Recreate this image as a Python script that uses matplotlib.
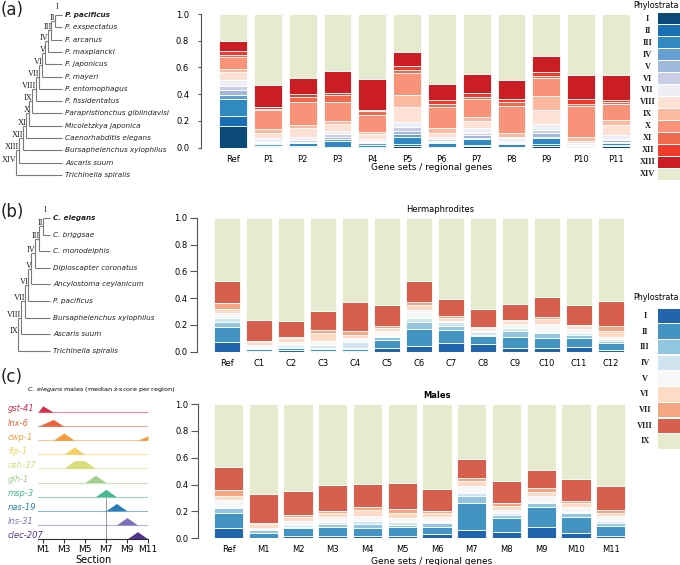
import numpy as np
import matplotlib
matplotlib.use("Agg")
import matplotlib.pyplot as plt
from matplotlib.patches import Rectangle

W, H = 680, 565

# ---------------- data ----------------
strata_a = ["I", "II", "III", "IV", "V", "VI", "VII", "VIII", "IX", "X",
            "XI", "XII", "XIII", "XIV"]
strata_bc = strata_a[:9]

colors_a = ["#0b4a78", "#1a6fb4", "#3189c2", "#64a0d2", "#a0b8dc", "#cacde6",
            "#eeeef6", "#fde1d5", "#fbb99f", "#f8937a", "#ee6a4e", "#ef3b2c",
            "#cb1e24", "#e6ebcf"]
colors_bc = ["#2166ac", "#4393c3", "#92c5de", "#d1e5f0", "#f7f7f7",
             "#fddbc7", "#f4a582", "#d6604d", "#e6ebcf"]

taxa_a = ["P. pacificus", "P. exspectatus", "P. arcanus", "P. maxplancki",
          "P. japonicus", "P. mayeri", "P. entomophagus", "P. fissidentatus",
          "Parapristionchus giblindavisi", "Micoletzkya japonica",
          "Caenorhabditis elegans", "Bursaphelenchus xylophilus",
          "Ascaris suum", "Trichinella spiralis"]
taxa_b = ["C. elegans", "C. briggsae", "C. monodelphis", "Diploscapter coronatus",
          "Ancylostoma ceylanicum", "P. pacificus", "Bursaphelenchus xylophilus",
          "Ascaris suum", "Trichinella spiralis"]
# x of the internal nodes II, III, ... of each cladogram
nodes_a = [55, 51, 48, 45, 42, 39, 36, 32, 29, 26, 23, 19, 16]
nodes_b = [43, 39, 35, 31, 28, 25, 21, 18]

labels_a = ["Ref"] + ["P%d" % i for i in range(1, 12)]
labels_b = ["Ref"] + ["C%d" % i for i in range(1, 13)]
labels_c = ["Ref"] + ["M%d" % i for i in range(1, 12)]

# proportion of genes per phylostratum (I ... XIV), one row per gene set
props_a = [
    [0.162, 0.077, 0.122, 0.032, 0.042, 0.025, 0.045, 0.062, 0.025, 0.087, 0.017, 0.025, 0.077, 0.202],
    [0.003, 0.004, 0.008, 0.012, 0.008, 0.009, 0.025, 0.042, 0.030, 0.140, 0.012, 0.008, 0.167, 0.532],
    [0.007, 0.008, 0.017, 0.005, 0.008, 0.012, 0.025, 0.062, 0.025, 0.176, 0.037, 0.020, 0.117, 0.481],
    [0.004, 0.004, 0.045, 0.012, 0.018, 0.020, 0.025, 0.050, 0.025, 0.142, 0.050, 0.017, 0.162, 0.426],
    [0.003, 0.005, 0.015, 0.012, 0.005, 0.007, 0.017, 0.040, 0.017, 0.120, 0.032, 0.012, 0.229, 0.486],
    [0.015, 0.012, 0.055, 0.020, 0.025, 0.025, 0.042, 0.112, 0.087, 0.163, 0.025, 0.030, 0.107, 0.282],
    [0.004, 0.004, 0.030, 0.008, 0.007, 0.010, 0.020, 0.030, 0.032, 0.162, 0.020, 0.030, 0.120, 0.523],
    [0.010, 0.010, 0.042, 0.008, 0.025, 0.012, 0.037, 0.057, 0.025, 0.135, 0.020, 0.030, 0.140, 0.449],
    [0.003, 0.004, 0.020, 0.005, 0.005, 0.007, 0.025, 0.010, 0.030, 0.200, 0.030, 0.025, 0.140, 0.496],
    [0.015, 0.012, 0.042, 0.012, 0.030, 0.020, 0.045, 0.105, 0.105, 0.132, 0.017, 0.032, 0.117, 0.316],
    [0.003, 0.002, 0.007, 0.005, 0.002, 0.002, 0.012, 0.017, 0.032, 0.230, 0.012, 0.037, 0.180, 0.459],
    [0.012, 0.008, 0.012, 0.012, 0.012, 0.012, 0.025, 0.075, 0.037, 0.125, 0.012, 0.017, 0.182, 0.459],
]
props_b = [
    [0.070, 0.117, 0.037, 0.030, 0.032, 0.032, 0.042, 0.167, 0.473],
    [0.005, 0.017, 0.005, 0.005, 0.015, 0.022, 0.012, 0.157, 0.762],
    [0.012, 0.017, 0.008, 0.012, 0.020, 0.030, 0.012, 0.117, 0.772],
    [0.005, 0.017, 0.005, 0.025, 0.025, 0.062, 0.025, 0.137, 0.699],
    [0.004, 0.015, 0.005, 0.050, 0.030, 0.020, 0.030, 0.219, 0.627],
    [0.025, 0.062, 0.025, 0.005, 0.037, 0.020, 0.017, 0.157, 0.652],
    [0.042, 0.127, 0.055, 0.030, 0.057, 0.037, 0.020, 0.159, 0.473],
    [0.062, 0.100, 0.032, 0.030, 0.005, 0.020, 0.020, 0.122, 0.609],
    [0.055, 0.065, 0.005, 0.025, 0.012, 0.012, 0.012, 0.132, 0.682],
    [0.025, 0.087, 0.042, 0.020, 0.030, 0.025, 0.008, 0.117, 0.646],
    [0.025, 0.075, 0.037, 0.012, 0.055, 0.040, 0.017, 0.144, 0.595],
    [0.037, 0.067, 0.020, 0.012, 0.037, 0.017, 0.012, 0.144, 0.654],
    [0.012, 0.050, 0.020, 0.010, 0.020, 0.042, 0.037, 0.189, 0.620],
]
props_c = [
    [0.074, 0.117, 0.032, 0.007, 0.055, 0.030, 0.045, 0.169, 0.471],
    [0.005, 0.037, 0.020, 0.005, 0.012, 0.025, 0.012, 0.216, 0.668],
    [0.017, 0.057, 0.012, 0.012, 0.032, 0.030, 0.012, 0.179, 0.649],
    [0.017, 0.065, 0.025, 0.017, 0.032, 0.030, 0.020, 0.191, 0.603],
    [0.017, 0.057, 0.032, 0.022, 0.037, 0.045, 0.025, 0.166, 0.599],
    [0.017, 0.070, 0.012, 0.025, 0.030, 0.032, 0.032, 0.191, 0.591],
    [0.032, 0.055, 0.030, 0.005, 0.040, 0.025, 0.017, 0.163, 0.633],
    [0.062, 0.199, 0.055, 0.020, 0.057, 0.030, 0.025, 0.144, 0.408],
    [0.050, 0.099, 0.025, 0.012, 0.025, 0.030, 0.020, 0.166, 0.573],
    [0.082, 0.154, 0.030, 0.008, 0.042, 0.027, 0.030, 0.132, 0.495],
    [0.042, 0.114, 0.030, 0.012, 0.037, 0.025, 0.017, 0.164, 0.559],
    [0.020, 0.072, 0.020, 0.020, 0.035, 0.025, 0.020, 0.174, 0.614],
]

# ridgeline: median z-score per region (sections M1..M11)
sections = ["M%d" % i for i in range(1, 12)]
genes = ["gst-41", "lnx-6", "cwp-1", "flp-1", "ceh-37", "glh-1", "msp-3",
         "nas-19", "lns-31", "clec-207"]
gene_colors = ["#d7304d", "#f0603a", "#f59d3d", "#f6cf62", "#d6dd78",
               "#9fd08a", "#45b98c", "#2a7db8", "#7d70bb", "#553190"]
ridge_vals = [
    [0.85, 0, 0, 0, 0, 0, 0, 0, 0, 0, 0],
    [0.26, 0.92, 0, 0, 0, 0, 0, 0, 0, 0, 0],
    [0, 0, 1.0, 0, 0, 0, 0, 0, 0, 0, 0.6],
    [0, 0, 0, 1.0, 0, 0, 0, 0, 0, 0, 0],
    [0, 0, 0, 1.05, 1.05, 0, 0, 0, 0, 0, 0],
    [0, 0, 0, 0, 0, 1.0, 0, 0, 0, 0, 0],
    [0, 0, 0, 0, 0, 0, 1.0, 0, 0, 0, 0],
    [0, 0, 0, 0, 0, 0, 0, 1.0, 0, 0, 0],
    [0, 0, 0, 0, 0, 0, 0, 0, 1.0, 0, 0],
    [0, 0, 0, 0, 0, 0, 0, 0, 0, 1.0, 0],
]

SERIF = "Liberation Serif"

fig = plt.figure(figsize=(W / 100, H / 100), dpi=100)


def px_axes(left, top, right, bottom):
    return fig.add_axes([left / W, 1 - bottom / H, (right - left) / W, (bottom - top) / H])


# overlay in pixel coordinates for the cladograms and panel letters
ax0 = px_axes(0, 0, W, H)
ax0.set_xlim(0, W)
ax0.set_ylim(H, 0)
ax0.axis("off")


def draw_tree(ax, taxa, node_x, top_y, step, tip_x, fs):
    ys = top_y + step * np.arange(len(taxa))
    kw = dict(color="#7a7a7a", lw=0.8, solid_capstyle="butt")
    lab = dict(family=SERIF, fontsize=6, color="#222")
    ax.text(tip_x - 5, ys[0] - 4, strata_a[0], ha="center", va="bottom", **lab)
    clade_y = ys[0]
    ax.plot([node_x[0], tip_x], [ys[0], ys[0]], **kw)
    for k in range(1, len(taxa)):
        nx = node_x[k - 1]
        if k > 1:
            ax.plot([nx, node_x[k - 2]], [clade_y, clade_y], **kw)
        ax.plot([nx, tip_x], [ys[k], ys[k]], **kw)
        ax.plot([nx, nx], [clade_y, ys[k]], **kw)
        new_y = (clade_y + ys[k]) / 2
        ax.text(nx + 0.5, new_y - 3, strata_a[k], ha="right", va="center", **lab)
        clade_y = new_y
    for i, name in enumerate(taxa):
        ax.text(tip_x + 3, ys[i], name, ha="left", va="center", style="italic",
                fontsize=fs, weight="bold" if i == 0 else "normal", color="#222")


draw_tree(ax0, taxa_a, nodes_a, 15, 12.3, 62, 5.2)
draw_tree(ax0, taxa_b, nodes_b, 218, 16.6, 50, 5.2)

for letter, y in [("(a)", 10), ("(b)", 212), ("(c)", 377)]:
    ax0.text(1, y, letter, fontsize=12, ha="left", va="center", color="#222")


def stacked(ax, labels, rows, colors, width, xlim, ticklen, tickpad):
    vals = np.array(rows).T
    x = np.arange(len(labels))
    bottom = np.zeros(len(labels))
    for v, c in zip(vals, colors):
        ax.bar(x, v, width, bottom=bottom, color=c, edgecolor="white", linewidth=0.6)
        bottom += v
    ax.set_xlim(*xlim)
    ax.set_ylim(0, 1)
    for s in ["top", "right", "bottom"]:
        ax.spines[s].set_visible(False)
    ax.spines["left"].set_color("#555")
    ax.spines["left"].set_linewidth(0.8)
    ax.set_yticks(np.arange(0, 1.01, 0.2))
    ax.set_yticklabels(["%.1f" % t for t in np.arange(0, 1.01, 0.2)])
    ax.tick_params(axis="y", labelsize=6, length=ticklen, pad=tickpad, color="#555")
    ax.set_xticks(x)
    ax.set_xticklabels(labels)
    ax.tick_params(axis="x", labelsize=6, length=0, pad=5)


ax_a = px_axes(201, 14, 631.5, 147.7)
stacked(ax_a, labels_a, props_a, colors_a, 0.8, (-0.92, 11.45), 2.5, 6)
ax_b = px_axes(197, 217.7, 627, 351.7)
stacked(ax_b, labels_b, props_b, colors_bc, 0.81, (-0.94, 12.5), 5, 2)
ax_c = px_axes(198, 404, 628.2, 538.3)
stacked(ax_c, labels_c, props_c, colors_bc, 0.84, (-0.88, 11.5), 5, 2)

fig.text(432 / W, 1 - 168 / H, "Gene sets / regional genes", fontsize=6.5,
         ha="center", va="center")
fig.text(432 / W, 1 - 561 / H, "Gene sets / regional genes", fontsize=6.5,
         ha="center", va="center")
fig.text(440 / W, 1 - 210 / H, "Hermaphrodites", fontsize=6, ha="center", va="center")
fig.text(437 / W, 1 - 395 / H, "Males", fontsize=6, ha="center", va="center",
         weight="bold")


def legend_box(left, top, bottom, names, colors, lab_x, title_y):
    ax = px_axes(left, top, left + 26, bottom)
    n = len(names)
    ax.set_xlim(0, 1)
    ax.set_ylim(n, 0)
    ax.axis("off")
    for i, (nm, c) in enumerate(zip(names, colors)):
        ax.add_patch(Rectangle((0, i + 0.04), 1, 0.92, color=c, lw=0))
        ax.text(lab_x, i + 0.5, nm, ha="center", va="center", family=SERIF,
                fontsize=6, weight="bold", color="#222", clip_on=False)
    fig.text(679 / W, 1 - title_y / H, "Phylostrata", fontsize=5.8,
             ha="right", va="center")


legend_box(658, 12.7, 180.2, strata_a, colors_a, -0.4, 5)
legend_box(658, 308, 449.3, strata_bc, colors_bc, -0.5, 298)

# ridgeline plot
ax_r = px_axes(38, 402.2, 148, 540.4)
x0 = 0.55
xs = np.concatenate([[x0], np.arange(1, len(sections) + 1)])
scale = 0.52
n = len(genes)
for i, (g, c, v) in enumerate(zip(genes, gene_colors, ridge_vals)):
    base = n - 1 - i
    ys = base + scale * np.concatenate([[0], v])
    ax_r.plot([x0, len(sections)], [base, base], color=c, lw=0.8, alpha=0.55, zorder=1)
    ax_r.fill_between(xs, base, ys, color=c, lw=0, zorder=2)
    ax_r.text(x0 - 2.85, base + 0.22, g, color=c, style="italic", fontsize=6,
              ha="left", va="center", clip_on=False)
ax_r.vlines(7, 0, n - 1 - genes.index("msp-3"), color="#888", lw=0.6, zorder=0)
ax_r.set_xlim(x0, len(sections))
ax_r.set_ylim(-0.1, 9.7)
for s in ["top", "right", "left"]:
    ax_r.spines[s].set_visible(False)
ax_r.spines["bottom"].set_position(("data", 0))
ax_r.spines["bottom"].set_color("#333")
ax_r.set_yticks([])
ax_r.set_xticks(np.arange(1, 12, 2))
ax_r.set_xticklabels(sections[::2])
ax_r.tick_params(axis="x", labelsize=6.5, length=3, pad=1, color="#333")
ax_r.set_xlabel("Section", fontsize=7, labelpad=1)
fig.text(101 / W, 1 - 389 / H,
         r"$\it{C.\ elegans}$ males (median z-score per region)",
         fontsize=4.6, ha="center", va="center")

fig.savefig("out.png", dpi=100)
